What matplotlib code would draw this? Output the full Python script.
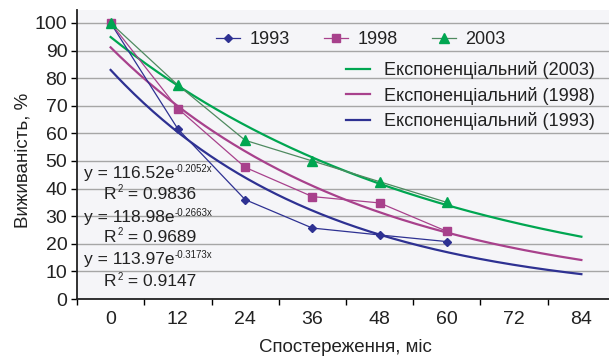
import numpy as np
import matplotlib.pyplot as plt
from matplotlib.lines import Line2D

plt.rcParams['font.family'] = ['Liberation Sans Narrow', 'Liberation Sans', 'DejaVu Sans']

# дані
months = [0, 12, 24, 36, 48, 60]
s1993 = [100, 61.6, 36, 25.7, 23.2, 20.8]
s1998 = [100, 69, 47.7, 37.1, 34.8, 24.5]
s2003 = [100, 77.5, 57.5, 50, 42.5, 35]
xticks = [0, 12, 24, 36, 48, 60, 72, 84]

# коефіцієнти експоненційних трендів (x = номер точки 1..8)
trend_a = {'1993': 113.97, '1998': 118.98, '2003': 116.52}
trend_b = {'1993': -0.3173, '1998': -0.2663, '2003': -0.2052}
r2 = {'1993': '0.9147', '1998': '0.9689', '2003': '0.9836'}

c93, c98, c03 = '#2e3192', '#a8418c', '#00a651'
c03d = '#4f8a60'
tc = '#222222'

fig = plt.figure(figsize=(6.09, 3.57), dpi=100)
ax = fig.add_axes([77/609, 1-299/357, (615-77)/609, (299-10)/357])
ax.set_facecolor('#f5f5f8')

ax.set_xlim(-6, 90)
ax.set_ylim(0, 104.7)

# тренди
xs = np.linspace(0, 84, 200)
idx = xs / 12 + 1
for key, col in [('2003', c03), ('1998', c98), ('1993', c93)]:
    ax.plot(xs, trend_a[key] * np.exp(trend_b[key] * idx), color=col, lw=1.6, zorder=3)

ax.plot(months, s1993, color=c93, lw=0.9, marker='D', ms=4, zorder=4)
ax.plot(months, s1998, color=c98, lw=0.9, marker='s', ms=5.5, zorder=4)
ax.plot(months, s2003, color=c03d, lw=0.9, marker='^', ms=6.5, mfc=c03, mec=c03, zorder=4)

# сітка та осі
ax.set_yticks(range(0, 101, 10))
ax.yaxis.grid(True, color='#a6a6a6', lw=1)
ax.set_axisbelow(True)
ax.set_xticks([-6 + 12 * i for i in range(9)])
ax.set_xticklabels([])
ax.set_xticks(xticks, minor=True)
ax.set_xticklabels([str(v) for v in xticks], minor=True)
ax.tick_params(axis='x', which='major', length=4, width=1, direction='out')
ax.tick_params(axis='x', which='minor', length=0, pad=9, labelsize=14, labelcolor=tc)
ax.tick_params(axis='y', length=4, width=1, labelsize=14, pad=3, labelcolor=tc)
for s in ['top', 'right']:
    ax.spines[s].set_visible(False)
for s in ['left', 'bottom']:
    ax.spines[s].set_color(tc)
    ax.spines[s].set_linewidth(1.3)

fig.text(23/609, 1-160/357, 'Виживаність, %', rotation=90, ha='center', va='center',
         fontsize=13.5, color=tc)
fig.text(345/609, 1-347/357, 'Спостереження, міс', ha='center', va='center',
         fontsize=13.5, color=tc)

# рівняння
eqs = [('2003', 45.5, 37.8), ('1998', 29.5, 22.3), ('1993', 14.3, 6.2)]
for key, ye, yr in eqs:
    t1 = ax.text(-4.8, ye, 'y = %.2fe' % trend_a[key], fontsize=12.5, va='center', ha='left', color=tc)
    ax.annotate('%.4fx' % trend_b[key], xy=(1, 0.8), xycoords=t1, xytext=(0.5, 0),
                textcoords='offset points', fontsize=7, va='center', ha='left', color=tc)
    t2 = ax.text(-1.2, yr, 'R', fontsize=12.5, va='center', ha='left', color=tc)
    ax.annotate('2', xy=(1, 0.85), xycoords=t2, xytext=(0.5, 0),
                textcoords='offset points', fontsize=7, va='center', ha='left', color=tc)
    ax.annotate(' = ' + r2[key], xy=(1, 0.5), xycoords=t2, xytext=(5, 0),
                textcoords='offset points', fontsize=12.5, va='center', ha='left', color=tc)

# легенда
h1 = [Line2D([], [], color=c93, lw=0.9, marker='D', ms=4),
      Line2D([], [], color=c98, lw=0.9, marker='s', ms=5.5),
      Line2D([], [], color=c03d, lw=0.9, marker='^', ms=6.5, mfc=c03, mec=c03)]
leg1 = fig.legend(h1, ['1993', '1998', '2003'], ncol=3, frameon=False, fontsize=13,
                  loc='center left', bbox_to_anchor=(207/609, 1-40/357),
                  handlelength=1.35, columnspacing=1.9, handletextpad=0.5, borderpad=0,
                  labelcolor=tc)
h2 = [Line2D([], [], color=c03, lw=1.6),
      Line2D([], [], color=c98, lw=1.6),
      Line2D([], [], color=c93, lw=1.6)]
leg2 = fig.legend(h2, ['Експоненціальний (2003)', 'Експоненціальний (1998)', 'Експоненціальний (1993)'],
                  frameon=False, fontsize=13, loc='upper right', bbox_to_anchor=(604/609, 1-52/357),
                  handlelength=1.3, handletextpad=0.8, labelspacing=0.42, borderpad=0,
                  labelcolor=tc)

fig.savefig('out.png', dpi=100, facecolor='white')
